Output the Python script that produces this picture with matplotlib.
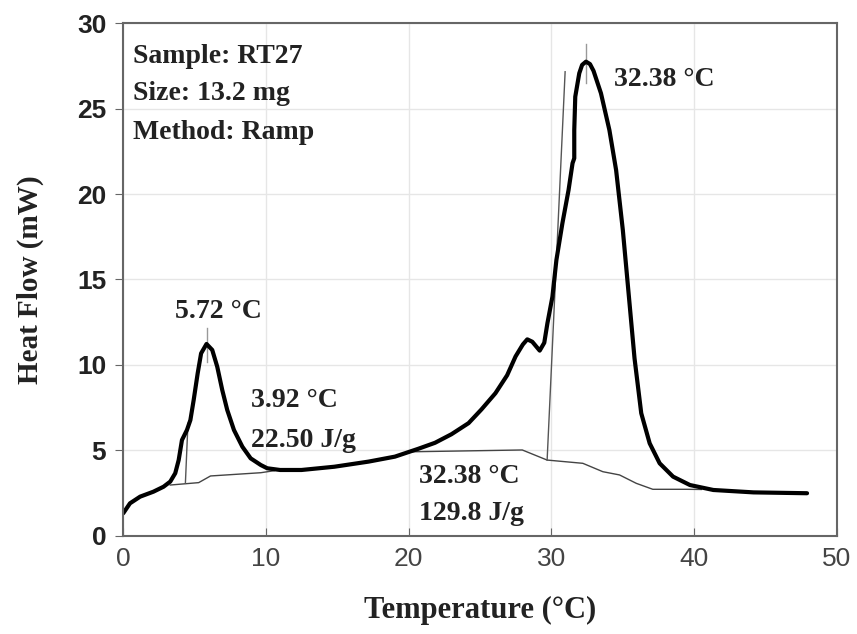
import matplotlib.pyplot as plt
import numpy as np

# DSC heat flow curve
temp = [0.02, 0.49, 1.2, 2.13, 2.84, 3.31, 3.66, 3.9, 4.13, 4.48, 4.72, 4.95,
        5.23, 5.47, 5.85, 6.25, 6.6, 6.95, 7.3, 7.77, 8.36, 8.94, 9.65, 10.1,
        11.0, 12.5, 14.8, 17.2, 19.04, 20.68, 21.85, 23.0, 24.2, 25.1, 26.08,
        26.9, 27.49, 28.0, 28.31, 28.66, 29.18, 29.5, 29.72, 30.07, 30.35,
        30.77, 31.2, 31.48, 31.6, 31.6, 31.67, 31.95, 32.15, 32.42, 32.7,
        32.95, 33.47, 34.06, 34.53, 35.0, 35.47, 35.82, 36.29, 36.88, 37.58,
        38.52, 39.7, 41.34, 44.15, 47.9]
heat_flow = [1.33, 1.91, 2.3, 2.59, 2.88, 3.18, 3.67, 4.44, 5.61, 6.2, 6.78,
             7.95, 9.51, 10.68, 11.23, 10.88, 9.9, 8.54, 7.37, 6.2, 5.22, 4.54,
             4.15, 3.96, 3.86, 3.86, 4.05, 4.35, 4.64, 5.1, 5.45, 5.95, 6.6,
             7.4, 8.35, 9.4, 10.5, 11.2, 11.5, 11.36, 10.84, 11.3, 12.44, 13.99,
             16.14, 18.29, 20.23, 21.8, 22.09, 23.74, 25.69, 27.06, 27.55, 27.74,
             27.6, 27.2, 25.89, 23.74, 21.4, 17.9, 13.6, 10.39, 7.18, 5.42, 4.25,
             3.47, 2.98, 2.69, 2.55, 2.5]

# integration baselines
base1_t = [3.31, 5.3, 6.13, 9.65, 10.6]
base1_y = [2.98, 3.12, 3.51, 3.7, 3.82]
base2_t = [19.9, 27.96, 29.7, 32.2, 33.6, 34.77, 35.94, 37.1, 39.5, 40.5]
base2_y = [4.92, 5.03, 4.44, 4.25, 3.76, 3.57, 3.08, 2.73, 2.73, 2.72]

# onset tangents and peak markers
tan1_t, tan1_y = [4.37, 4.55], [3.08, 6.59]
tan2_t, tan2_y = [29.7, 30.96], [4.44, 27.15]
mark1_t, mark1_y = [5.85, 5.85], [10.2, 12.15]
mark2_t, mark2_y = [32.42, 32.42], [26.5, 28.8]

serif = 'Liberation Serif'
sans = 'Liberation Sans'

fig = plt.figure(figsize=(8.57, 6.34), dpi=100)
ax = fig.add_axes([0.1435, 0.1546, 0.8332, 0.8091])

ax.plot(base1_t, base1_y, color='#444444', lw=1.0)
ax.plot(base2_t, base2_y, color='#444444', lw=1.0)
ax.plot(tan1_t, tan1_y, color='#555555', lw=1.0)
ax.plot(tan2_t, tan2_y, color='#555555', lw=1.0)
ax.plot(mark1_t, mark1_y, color='#999999', lw=1.0)
ax.plot(mark2_t, mark2_y, color='#999999', lw=1.0)
ax.plot(temp, heat_flow, color='black', lw=3.0,
        solid_joinstyle='round', solid_capstyle='round')

ax.set_xlim(0, 50)
ax.set_ylim(0, 30)
ax.set_xticks(np.arange(0, 51, 10))
ax.set_yticks(np.arange(0, 31, 5))
ax.grid(color='#e6e6e6', lw=1.0)
ax.set_axisbelow(True)

for s in ax.spines.values():
    s.set_color('#666666')
    s.set_linewidth(1.5)

ax.tick_params(axis='x', direction='in', length=6, color='#666666', pad=8,
               labelsize=19, labelcolor='#444444')
ax.tick_params(axis='y', direction='out', length=6, color='#666666', pad=6,
               labelsize=19, labelcolor='#222222')
for lab in ax.get_xticklabels():
    lab.set_family(sans)
for lab in ax.get_yticklabels():
    lab.set_family(sans)
    lab.set_fontweight('bold')

ax.set_xlabel('Temperature (°C)', family=serif, fontweight='bold',
              fontsize=22, color='#222222', labelpad=18)
ax.set_ylabel('Heat Flow (mW)', family=serif, fontweight='bold',
              fontsize=21, color='#222222', labelpad=24)

txt = dict(family=serif, fontweight='bold', fontsize=20, color='#222222')
ax.text(0.7, 28.07, 'Sample: RT27', va='center', **txt)
ax.text(0.7, 25.9, 'Size: 13.2 mg', va='center', **txt)
ax.text(0.7, 23.6, 'Method: Ramp', va='center', **txt)
ax.text(6.65, 13.1, '5.72 °C', ha='center', va='center', **txt)
ax.text(8.95, 7.95, '3.92 °C', va='center', **txt)
ax.text(8.95, 5.6, '22.50 J/g', va='center', **txt)
ax.text(20.7, 3.5, '32.38 °C', va='center', **txt)
ax.text(20.7, 1.3, '129.8 J/g', va='center', **txt)
ax.text(34.4, 26.7, '32.38 °C', va='center', **txt)

fig.savefig('out.png', dpi=100)
